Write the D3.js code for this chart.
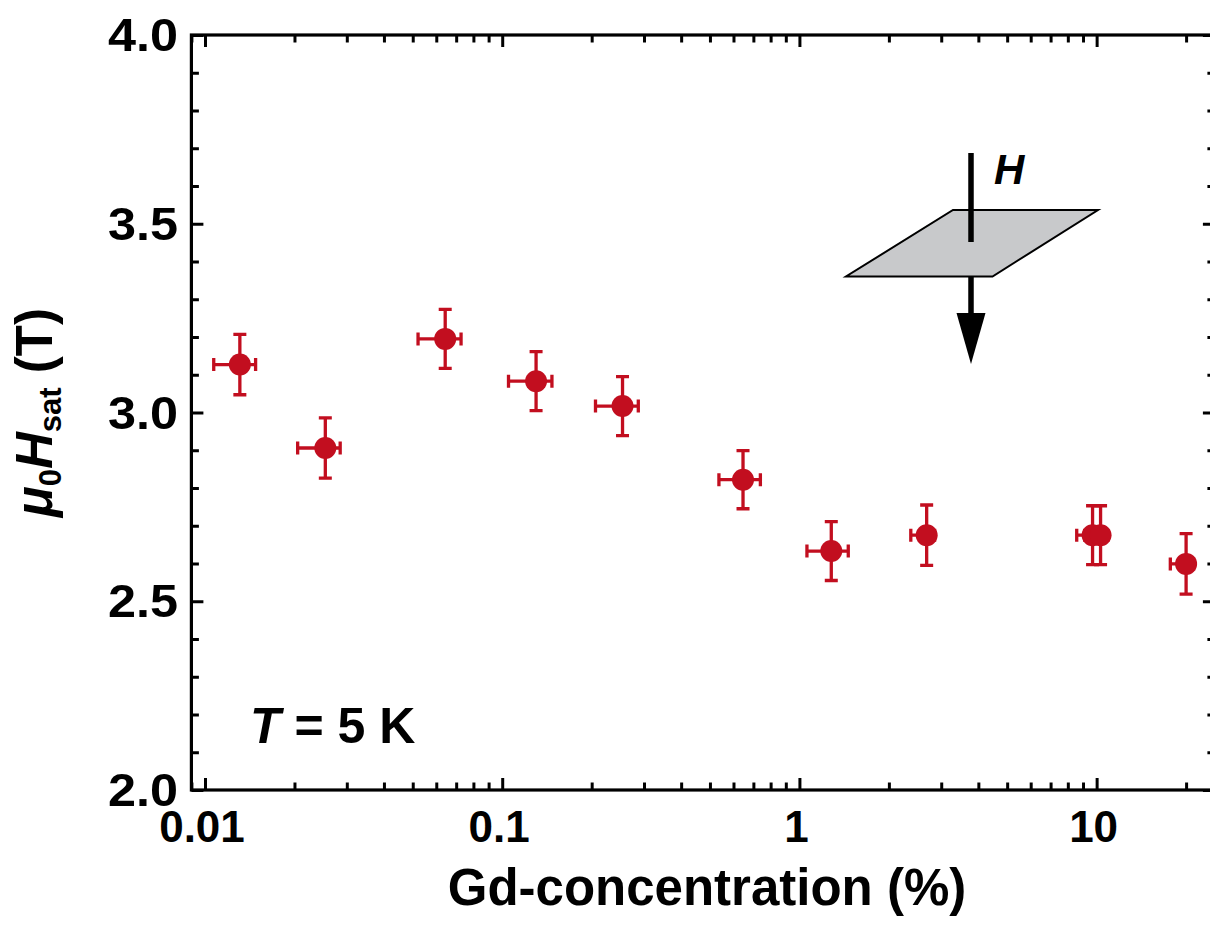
<!DOCTYPE html>
<html>
<head>
<meta charset="utf-8">
<script src="https://cdn.jsdelivr.net/npm/d3@7"></script>
<style>
  html, body { margin: 0; padding: 0; background: #fff; }
  svg { display: block; }
  text { font-family: "Liberation Sans", Arial, Helvetica, sans-serif; font-weight: bold; fill: #000; }
</style>
</head>
<body>
<svg id="chart" width="1210" height="925"></svg>
<script>
// ---- data ----
const concentration = [0.0131, 0.0254, 0.0643, 0.130, 0.254, 0.646, 1.28, 2.68, 9.69, 10.31, 20.0];
const concLow       = [0.0107, 0.0205, 0.0521, 0.105, 0.206, 0.536, 1.06, 2.37, 8.57, 9.12, 17.7];
const concHigh      = [0.0148, 0.0285, 0.0727, 0.147, 0.287, 0.739, 1.46, 2.85, 10.3, 10.9, 21.2];
const hSat          = [3.127, 2.906, 3.195, 3.083, 3.017, 2.822, 2.633, 2.675, 2.675, 2.675, 2.599];
const hSatErr       = [0.080, 0.080, 0.078, 0.078, 0.078, 0.077, 0.078, 0.080, 0.078, 0.078, 0.080];

const xMajorTicks = [0.01, 0.1, 1, 10];
const xTickLabels = ["0.01", "0.1", "1", "10"];
const yMajorTicks = [2.0, 2.5, 3.0, 3.5, 4.0];
const yTickLabels = ["2.0", "2.5", "3.0", "3.5", "4.0"];
const xDomain = [0.009, 25];
const yDomain = [2, 4];

// ---- layout ----
const svg = d3.select("#chart");
const pLeft = 191.4, pRight = 1214.9, pTop = 35, pBottom = 790;
const red = "#c20e1f";

const x = d3.scaleLog().domain(xDomain).range([pLeft, pRight]);
const y = d3.scaleLinear().domain(yDomain).range([pBottom, pTop]);

// minor ticks
const xMinor = [];
for (let e = -3; e <= 1; e++) for (let m = 2; m <= 9; m++) {
  const v = m * Math.pow(10, e);
  if (v >= xDomain[0] && v <= xDomain[1]) xMinor.push(v);
}
const yMinor = d3.range(2.1, 4.0, 0.1).map(v => +v.toFixed(1)).filter(v => !yMajorTicks.some(t => Math.abs(t - v) < 1e-9));

const axisStyle = g => {
  g.select(".domain").remove();
  g.selectAll(".tick line").attr("stroke", "#000").attr("stroke-width", 3);
  g.selectAll(".tick text").remove();
};

// bottom
svg.append("g").attr("transform", `translate(0,${pBottom})`)
  .call(d3.axisBottom(x).tickValues(xMajorTicks).tickSize(-12).tickFormat("")).call(axisStyle);
svg.append("g").attr("transform", `translate(0,${pBottom})`)
  .call(d3.axisBottom(x).tickValues(xMinor).tickSize(-7.5).tickFormat("")).call(axisStyle);
// top
svg.append("g").attr("transform", `translate(0,${pTop})`)
  .call(d3.axisTop(x).tickValues(xMajorTicks).tickSize(-12).tickFormat("")).call(axisStyle);
svg.append("g").attr("transform", `translate(0,${pTop})`)
  .call(d3.axisTop(x).tickValues(xMinor).tickSize(-7.5).tickFormat("")).call(axisStyle);
// left
svg.append("g").attr("transform", `translate(${pLeft},0)`)
  .call(d3.axisLeft(y).tickValues(yMajorTicks).tickSize(-12).tickFormat("")).call(axisStyle);
svg.append("g").attr("transform", `translate(${pLeft},0)`)
  .call(d3.axisLeft(y).tickValues(yMinor).tickSize(-7.5).tickFormat("")).call(axisStyle);
// right
svg.append("g").attr("transform", `translate(${pRight},0)`)
  .call(d3.axisRight(y).tickValues(yMajorTicks).tickSize(-12).tickFormat("")).call(axisStyle);
svg.append("g").attr("transform", `translate(${pRight},0)`)
  .call(d3.axisRight(y).tickValues(yMinor).tickSize(-7.5).tickFormat("")).call(axisStyle);

// frame
svg.append("rect").attr("x", pLeft).attr("y", pTop)
  .attr("width", pRight - pLeft).attr("height", pBottom - pTop)
  .attr("fill", "none").attr("stroke", "#000").attr("stroke-width", 3.2);

// tick labels
svg.append("g").selectAll("text").data(xMajorTicks).join("text")
  .attr("x", d => x(d) - 3).attr("y", 842)
  .attr("text-anchor", "middle").attr("font-size", 44)
  .text((d, i) => xTickLabels[i]);
svg.append("g").selectAll("text").data(yMajorTicks).join("text")
  .attr("x", 178).attr("y", d => y(d) + 16)
  .attr("text-anchor", "end").attr("font-size", 46)
  .attr("textLength", 70).attr("lengthAdjust", "spacingAndGlyphs")
  .text((d, i) => yTickLabels[i]);

// axis titles
svg.append("text").attr("x", 707).attr("y", 905)
  .attr("text-anchor", "middle").attr("font-size", 51)
  .text("Gd-concentration (%)");

const yt = svg.append("text")
  .attr("transform", `translate(52,${(pTop + pBottom) / 2}) rotate(-90)`)
  .attr("text-anchor", "middle").attr("font-size", 51);
yt.append("tspan").attr("font-style", "italic").text("μ");
yt.append("tspan").attr("font-size", 31).attr("dy", 9).text("0");
yt.append("tspan").attr("font-style", "italic").attr("dy", -9).text("H");
yt.append("tspan").attr("font-size", 31).attr("dy", 9).text("sat");
yt.append("tspan").attr("dy", -9).text("\u00a0(T)");

// T = 5 K
const tl = svg.append("text").attr("x", 250).attr("y", 743).attr("font-size", 50);
tl.append("tspan").attr("font-style", "italic").text("T");
tl.append("tspan").text(" = 5 K");

// ---- inset: field through plane ----
const inset = svg.append("g");
inset.append("path")
  .attr("d", "M953,210 L1098,210 L992.5,276.5 L846,276.5 Z")
  .attr("fill", "#c8c9cb").attr("stroke", "#000").attr("stroke-width", 2).attr("stroke-linejoin", "miter");
inset.append("line").attr("x1", 971).attr("x2", 971).attr("y1", 153).attr("y2", 242)
  .attr("stroke", "#000").attr("stroke-width", 5.5);
inset.append("line").attr("x1", 971).attr("x2", 971).attr("y1", 276).attr("y2", 316)
  .attr("stroke", "#000").attr("stroke-width", 5.5);
inset.append("path").attr("d", "M956.5,313 L985.5,313 L971,364 Z").attr("fill", "#000");
inset.append("text").attr("x", 994).attr("y", 184).attr("font-size", 42)
  .attr("font-style", "italic").text("H");

// ---- data points with error bars ----
const idx = d3.range(concentration.length);
const pts = svg.append("g");
const cap = 6.5;
pts.selectAll("path.err").data(idx).join("path").attr("class", "err")
  .attr("fill", "none").attr("stroke", red).attr("stroke-width", 3.3)
  .attr("d", i => {
    const cx = x(concentration[i]), cy = y(hSat[i]);
    const y1 = y(hSat[i] + hSatErr[i]), y2 = y(hSat[i] - hSatErr[i]);
    const x1 = x(concLow[i]), x2 = x(concHigh[i]);
    return `M${cx},${y1}V${y2}M${cx - cap},${y1}H${cx + cap}M${cx - cap},${y2}H${cx + cap}` +
           `M${x1},${cy}H${x2}M${x1},${cy - cap}V${cy + cap}M${x2},${cy - cap}V${cy + cap}`;
  });
pts.selectAll("circle").data(idx).join("circle")
  .attr("cx", i => x(concentration[i])).attr("cy", i => y(hSat[i]))
  .attr("r", 11).attr("fill", red);
</script>
</body>
</html>
